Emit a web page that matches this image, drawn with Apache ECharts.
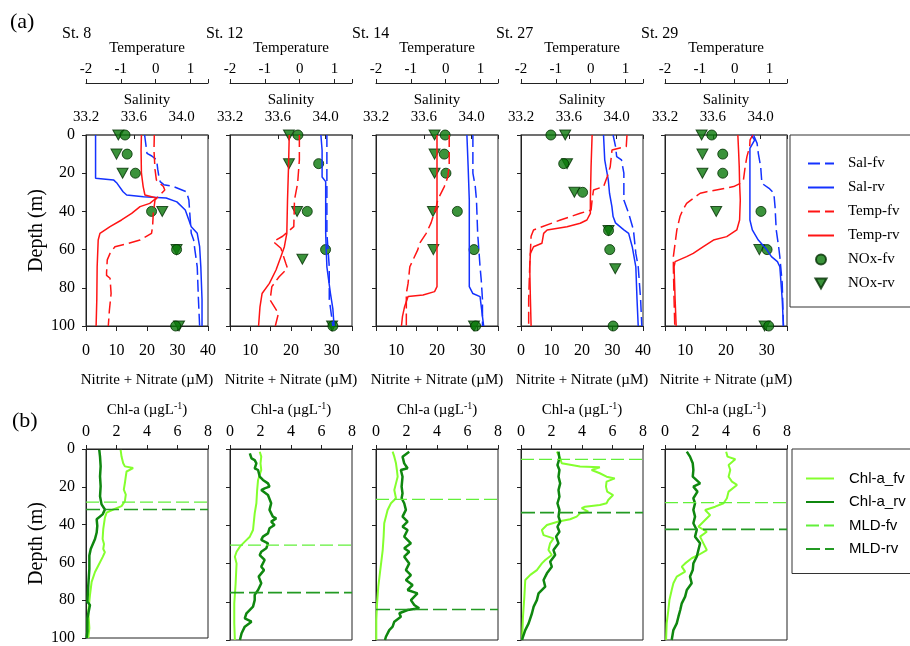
<!DOCTYPE html>
<html>
<head>
<meta charset="utf-8">
<script src="https://cdn.jsdelivr.net/npm/echarts@6/dist/echarts.min.js"></script>
<style>
  html, body { margin: 0; padding: 0; background: #fff; }
  #chart { width: 910px; height: 646px; }
</style>
</head>
<body>
<div id="chart"></div>
<script>
// ---------- Stations and axis ranges ----------
const stations = ['St. 8', 'St. 12', 'St. 14', 'St. 27', 'St. 29'];
const tempRange = [-2, 1.5];
const salRange = [33.2, 34.22];
const noxMin = [0, 5, 5, 0, 5];
const noxMax = [40, 35, 35, 40, 35];
const noxTickStep = [10, 5, 5, 10, 5];
const chlRange = [0, 8];
const depthRange = [0, 100];

// ---------- Salinity profiles [salinity, depth m] ----------
const sal8Fv = [[33.69,0],[33.71,9.6],[33.75,11],[33.79,13],[33.80,18],[33.81,22],[33.82,24.4],[33.85,26],[33.93,27],[34.04,29.7],[34.06,34],[34.07,43],[34.08,51.5],[34.10,55],[34.11,60],[34.13,69],[34.14,86],[34.15,100]];
const sal8Rv = [[33.28,0],[33.28,22.7],[33.43,23.5],[33.46,25.3],[33.51,29.7],[33.54,31.4],[33.68,32.3],[33.87,33],[33.96,35],[34.03,39.3],[34.06,44.5],[34.08,48],[34.13,51.5],[34.15,58.5],[34.16,69],[34.17,86],[34.17,100]];
const sal12Fv = [[34.01,0],[34.01,16],[34.01,27],[34.01,51.5],[34.03,69],[34.03,86],[34.06,100]];
const sal12Rv = [[33.96,0],[33.97,8],[33.97,22],[34.00,24.4],[34.00,34],[34.00,51.5],[34.01,69],[34.04,83],[34.06,91],[34.07,100]];
const sal14Fv = [[34.01,0],[34.01,20],[34.03,27],[34.04,34],[34.05,51.5],[34.07,69],[34.08,76],[34.09,86],[34.09,100]];
const sal14Rv = [[33.96,0],[33.97,16],[33.98,34],[33.98,51.5],[33.98,79.4],[34.01,83],[34.07,84.6],[34.09,95],[34.10,100]];
const sal27Fv = [[33.97,0],[33.99,6],[34.00,11.3],[34.04,13],[34.06,20],[34.06,34],[34.10,41],[34.14,49.7],[34.16,62],[34.18,69],[34.20,86],[34.21,100]];
const sal27Rv = [[33.89,0],[33.90,13],[33.91,16.6],[33.93,23.6],[33.94,30.5],[33.96,37.5],[33.97,42.7],[33.99,46],[34.06,49.7],[34.10,51.5],[34.13,58.5],[34.14,62],[34.16,69],[34.17,86],[34.18,100]];
const sal29Fv = [[33.94,0],[33.97,4.4],[33.98,9.6],[34.00,16.6],[34.01,25.3],[34.07,27.9],[34.11,30.5],[34.12,37.5],[34.13,49.7],[34.15,58.5],[34.16,63.7],[34.18,77.7],[34.19,100]];
const sal29Rv = [[33.92,0],[33.95,2.6],[33.91,7],[33.91,16.6],[33.91,34],[33.91,44.5],[33.93,49.7],[33.98,55],[34.05,60],[34.09,63.7],[34.14,66.3],[34.16,69],[34.18,86],[34.19,100]];

// ---------- Temperature profiles [°C, depth m] ----------
const temp8Fv = [[-0.04,0],[-0.05,8],[-0.02,18],[0.02,23.6],[0.22,27],[0.26,28.8],[-0.02,34],[-0.07,41],[-0.09,48],[-0.12,51.5],[-0.45,55],[-0.83,57],[-1.17,58.5],[-1.31,62],[-1.39,65.4],[-1.41,72],[-1.41,73.5],[-1.31,75],[-1.28,83],[-1.33,92],[-1.36,100]];
const temp8Rv = [[-0.41,0],[-0.42,8],[-0.41,20],[-0.36,27],[-0.31,31.4],[0.02,33],[-0.17,35.8],[-0.45,37.5],[-0.69,41],[-0.98,44.5],[-1.31,48],[-1.60,51.5],[-1.65,55],[-1.68,69],[-1.69,86],[-1.71,100]];
const temp12Fv = [[-0.01,0],[-0.01,13],[-0.06,25.3],[-0.15,34],[-0.17,48],[-0.49,53],[-0.76,55.8],[-0.54,59.3],[-0.40,67.2],[-0.35,69.8],[-0.59,74.2],[-0.80,79.4],[-0.85,86.4],[-0.61,93.4],[-0.70,100]];
const temp12Rv = [[-0.30,0],[-0.32,16],[-0.35,34],[-0.37,51.5],[-0.44,58.5],[-0.54,63.7],[-0.68,70.7],[-0.87,77.7],[-1.08,83],[-1.14,90],[-1.18,100]];
const temp14Fv = [[0.10,0],[0.10,16],[0.06,22],[-0.04,27],[-0.23,34],[-0.27,37.5],[-0.42,46],[-0.56,51.5],[-0.75,56.7],[-0.80,60],[-1.03,69],[-1.08,77.7],[-1.13,83],[-1.13,91],[-1.13,100]];
const temp14Rv = [[-0.25,0],[-0.25,20],[-0.25,51.5],[-0.25,79.4],[-0.32,82],[-0.65,83.8],[-1.08,84.6],[-1.18,89.9],[-1.24,95],[-1.27,100]];
const temp27Fv = [[1.04,0],[1.02,6],[0.61,7.9],[0.56,16.6],[0.47,22],[0.37,27],[0.08,28.8],[0.04,34],[0.01,39.3],[-0.30,41],[-0.87,44.5],[-1.64,49.7],[-1.71,53],[-1.75,69],[-1.78,86],[-1.78,100]];
const temp27Rv = [[0.04,0],[0.01,16.6],[-0.01,34],[-0.01,41],[-0.11,44.5],[-0.30,46.2],[-0.68,48],[-1.25,49.7],[-1.35,51.5],[-1.40,56.7],[-1.64,58.5],[-1.73,62],[-1.75,69],[-1.73,86],[-1.71,100]];
const temp29Fv = [[0.52,0],[0.44,2.6],[0.43,6],[0.35,11.3],[0.30,16.6],[0.25,23.6],[0.16,25.3],[-0.03,27],[-0.80,29.7],[-0.99,30.5],[-1.38,35.8],[-1.49,39.3],[-1.57,42.7],[-1.66,49.7],[-1.71,56.7],[-1.76,63.7],[-1.76,69],[-1.74,86],[-1.72,100]];
const temp29Rv = [[0.09,0],[0.11,7.9],[0.13,16.6],[0.14,25.3],[0.16,34],[0.14,44.5],[0.06,49.7],[-0.23,53.2],[-0.61,55],[-0.90,58.5],[-1.19,62],[-1.38,63.7],[-1.71,66.3],[-1.74,69],[-1.71,86],[-1.68,100]];

// ---------- Nitrite + nitrate bottle samples [µM, depth m] ----------
const nox8Fv = [[12.8,0],[13.5,10],[16.2,20],[21.5,40],[29.7,60],[29.4,100]];
const nox8Rv = [[10.6,0],[10.0,10],[12.0,20],[25.0,40],[29.7,60],[30.5,100]];
const nox12Fv = [[21.7,0],[26.8,15],[24.0,40],[28.5,60],[30.3,100]];
const nox12Rv = [[19.5,0],[19.5,15],[21.5,40],[22.8,65],[30.1,100]];
const nox14Fv = [[22.0,0],[21.8,10],[22.2,20],[25.0,40],[29.1,60],[29.5,100]];
const nox14Rv = [[19.4,0],[19.4,10],[19.4,20],[19.0,40],[19.1,60],[29.1,100]];
const nox27Fv = [[9.8,0],[14.0,15],[20.2,30],[28.7,50],[29.1,60],[30.2,100]];
const nox27Rv = [[14.5,0],[15.1,15],[17.5,30],[28.7,50],[30.9,70]];
const nox29Fv = [[16.5,0],[19.2,10],[19.2,20],[28.6,40],[30.1,60],[30.5,100]];
const nox29Rv = [[14.0,0],[14.2,10],[14.2,20],[17.6,40],[28.2,60],[29.5,100]];

// ---------- Chlorophyll-a profiles [µg/L, depth m] ----------
const chl8Fv = [[2.27,0.5],[2.33,4],[2.44,7.5],[2.55,9.2],[3.09,10.1],[2.66,11.9],[2.61,14.5],[2.55,18],[2.48,21.5],[2.61,24.1],[2.48,25],[2.55,27.6],[2.33,30.2],[1.79,32],[1.35,33.7],[1.24,36.3],[1.13,42.4],[1.09,47.6],[1.18,50.3],[1.13,52.9],[1.24,54.6],[1.09,57.2],[0.81,61.6],[0.59,65.1],[0.37,70.3],[0.26,77.3],[0.15,86],[0.22,94.8],[0.15,100]];
const chl8Rv = [[0.87,0.5],[0.92,4],[0.96,9.2],[0.92,14.5],[0.96,19.7],[0.92,25],[1.02,29.3],[1.24,32],[1.09,34.6],[0.70,37.2],[0.74,40.7],[0.70,44.2],[0.59,47.6],[0.31,52.9],[0.22,56.4],[0.22,63.4],[0.15,72.1],[0.09,80.8],[0.26,82.5],[0.09,89.5],[0.09,96.5],[0.04,100]];
const chl12Fv = [[1.95,1.4],[2.05,4],[2.00,7.5],[2.05,11],[1.84,16.2],[1.78,21.5],[1.73,28.4],[1.62,33.7],[1.51,42.4],[1.30,45.9],[0.97,48.5],[0.65,51.1],[0.43,53.8],[0.32,56.4],[0.43,60],[0.37,70.3],[0.28,80.8],[0.28,91.3],[0.32,100]];
const chl12Rv = [[1.30,2.3],[1.41,4.9],[1.62,5.8],[1.73,7.5],[1.62,10.1],[1.84,11],[1.95,14.5],[2.16,16.2],[2.49,18],[2.59,19.7],[2.27,20.6],[2.05,21.5],[2.49,24.1],[2.70,28.4],[2.59,31.9],[2.81,35.4],[3.03,36.3],[2.70,38],[2.92,39.8],[2.59,41.5],[2.49,44.2],[2.16,45.9],[2.05,47.6],[2.49,49.4],[2.38,52],[2.05,53.8],[1.95,55.5],[2.27,58.1],[2.05,61.6],[2.23,63.4],[1.88,66.8],[2.05,70.3],[1.84,73.8],[1.62,76.4],[1.62,79.1],[1.51,82.5],[1.08,86],[0.97,88.7],[1.41,90.4],[0.97,93],[0.76,96.5],[0.65,100]];
const chl14Fv = [[1.09,1.4],[1.20,4],[1.31,7.5],[1.37,11],[1.42,14.5],[1.31,18],[1.20,21.5],[1.31,25.8],[0.98,28.4],[0.76,31.9],[0.54,38.9],[0.50,45.9],[0.44,52.9],[0.28,63.4],[0.15,72.1],[0.07,80.8],[0.02,89.5],[0.02,100]];
const chl14Rv = [[2.18,1.4],[1.74,4],[1.85,7.5],[2.07,10.1],[1.63,11],[1.74,14.5],[1.68,19.7],[1.74,23.2],[1.68,25.8],[1.85,28.4],[1.96,31.9],[1.74,35.4],[2.07,38],[1.74,40.7],[2.07,42.4],[1.85,45.9],[2.29,49.4],[1.85,52],[2.18,53.8],[1.85,56.4],[2.18,59.9],[1.96,63.4],[2.29,66],[1.96,68.6],[2.40,71.2],[2.07,73.8],[2.72,75.6],[2.29,79.1],[2.51,81.7],[2.83,83.4],[2.07,84.3],[1.53,86],[1.63,87.8],[1.20,90.4],[1.09,93],[0.87,94.8],[0.65,98.3],[0.59,100]];
const chl27Fv = [[2.35,1.4],[2.57,4.9],[2.67,7.5],[3.87,9.2],[5.17,9.6],[4.63,11],[5.17,12.7],[5.61,14.5],[6.15,15.4],[5.61,17.1],[5.57,19.7],[5.65,22.3],[6.04,24.1],[5.72,26.7],[5.61,28.4],[5.17,29.3],[4.20,30.2],[3.98,31],[4.41,32.8],[3.87,33.7],[3.65,35.4],[3.22,36.8],[2.46,38],[1.70,39.8],[1.37,42.4],[1.48,45.1],[2.13,46.8],[1.91,49.4],[1.80,52.9],[2.02,55.5],[1.59,58.1],[1.37,59.9],[1.04,63.4],[0.61,65.9],[0.28,68.6],[0.22,77.3],[0.13,87.8],[0.07,100]];
const chl27Rv = [[2.46,1.4],[2.52,4.9],[2.39,8.4],[2.52,11],[2.46,14.5],[2.57,18],[2.46,21.5],[2.52,25],[2.39,28.4],[2.52,31.9],[2.46,35.4],[2.57,38],[2.39,40.7],[2.52,43.3],[2.30,45.9],[2.46,49.4],[2.13,52.9],[2.24,55.5],[1.91,59],[2.02,61.6],[1.70,65.1],[1.48,68.6],[1.59,72.1],[1.15,75.6],[1.04,79.1],[0.83,82.5],[0.72,86],[0.50,91.3],[0.28,94.8],[0.13,98.3],[0.07,100]];
const chl29Fv = [[4.01,1.4],[4.10,4],[4.61,5.4],[4.17,8.4],[4.28,11],[4.17,14.5],[4.39,17.1],[4.72,18.8],[4.17,22.3],[4.06,25.8],[3.84,28.4],[3.29,30.2],[2.63,31.9],[2.96,34.6],[2.63,37.2],[2.19,40.7],[2.74,43.3],[2.30,45.9],[2.52,49.4],[2.74,52.9],[2.19,55.5],[1.75,57.2],[1.32,59.9],[1.10,61.6],[1.32,64.2],[0.77,66.8],[0.55,70.3],[0.44,73.8],[0.29,79.1],[0.22,84.3],[0.11,91.3],[0.07,100]];
const chl29Rv = [[1.43,1.4],[1.64,4],[1.82,7.5],[1.86,11],[1.82,14.5],[2.30,18],[1.86,19.7],[2.13,22.3],[1.86,25.8],[1.97,28.4],[1.86,31.9],[1.97,35.4],[1.86,38.9],[2.08,42.4],[1.97,45.9],[2.30,49.4],[2.19,52.9],[2.08,56.4],[1.86,59.9],[1.82,63.4],[1.64,66.8],[1.75,70.3],[1.43,73.8],[1.32,77.3],[1.10,80.8],[1.00,84.3],[0.88,87.8],[0.77,91.3],[0.55,94.8],[0.44,100]];

// ---------- Mixed layer depths (m) ----------
const mldFv = [28.1, 50.3, 26.4, 5.4, 28.1];
const mldRv = [32.0, 75.2, 84.0, 33.3, 42.1];

// ---------- Per-station groupings ----------
const salFv = [sal8Fv, sal12Fv, sal14Fv, sal27Fv, sal29Fv];
const salRv = [sal8Rv, sal12Rv, sal14Rv, sal27Rv, sal29Rv];
const tempFv = [temp8Fv, temp12Fv, temp14Fv, temp27Fv, temp29Fv];
const tempRv = [temp8Rv, temp12Rv, temp14Rv, temp27Rv, temp29Rv];
const noxFv = [nox8Fv, nox12Fv, nox14Fv, nox27Fv, nox29Fv];
const noxRv = [nox8Rv, nox12Rv, nox14Rv, nox27Rv, nox29Rv];
const chlFv = [chl8Fv, chl12Fv, chl14Fv, chl27Fv, chl29Fv];
const chlRv = [chl8Rv, chl12Rv, chl14Rv, chl27Rv, chl29Rv];

// ---------- Layout and style ----------
const SERIF = '"Liberation Serif","Times New Roman",serif';
const SANS = '"Liberation Sans",Arial,sans-serif';
const colLeft = [86, 230, 376, 521, 665];
const panelW = 122, panelH = 191;
const rowTop = [135, 449];
const stationLabelX = [62, 206, 352, 496, 641];

const BLUE = '#1432ff';
const RED = '#ff1414';
const NOX_FILL = '#0a780a';
const NOX_EDGE = '#033003';
const CHL_FV = '#84ff2e';
const CHL_RV = '#0f870f';
const MLD_FV = '#62f03a';
const MLD_RV = '#239a23';
const AXIS = '#222';

const downTriangle = 'path://M0,0 L10,0 L5,9 Z';

function labelStyle(size, extra) {
  return Object.assign({ fontFamily: SERIF, fontSize: size, color: '#000' }, extra || {});
}
function nameStyle(size) {
  return { fontFamily: SERIF, fontSize: size, color: '#000' };
}
function isStep(v, base, step) {
  const k = (v - base) / step;
  return Math.abs(k - Math.round(k)) < 1e-6;
}

const grids = [], xAxes = [], yAxes = [], series = [];

for (let row = 0; row < 2; row++) {
  stations.forEach((st, i) => {
    grids.push({
      left: colLeft[i], top: rowTop[row], width: panelW, height: panelH,
      show: true, borderColor: AXIS, borderWidth: 1, containLabel: false
    });
  });
}

// depth axes (top row 0..4, bottom row 5..9)
for (let row = 0; row < 2; row++) {
  stations.forEach((st, i) => {
    yAxes.push({
      gridIndex: row * 5 + i, type: 'value', inverse: true,
      min: depthRange[0], max: depthRange[1], interval: 20,
      axisLine: { show: true, onZero: false, lineStyle: { color: AXIS } },
      axisTick: { show: true, inside: false, length: 4, lineStyle: { color: AXIS } },
      axisLabel: labelStyle(16, { show: i === 0, margin: 11 }),
      splitLine: { show: false },
      name: i === 0 ? 'Depth (m)' : '', nameLocation: 'middle', nameGap: 31, nameRotate: 90,
      nameTextStyle: nameStyle(20)
    });
  });
}

// top row x axes: temperature, salinity, nitrite+nitrate
stations.forEach((st, i) => {
  xAxes.push({
    gridIndex: i, type: 'value', position: 'top', offset: 52,
    min: tempRange[0], max: tempRange[1], interval: 1,
    axisLine: { show: true, onZero: false, lineStyle: { color: AXIS } },
    axisTick: { show: true, inside: false, length: 4, lineStyle: { color: AXIS } },
    axisLabel: labelStyle(15, { margin: 6, formatter: v => isStep(v, 0, 1) ? String(Math.round(v)) : '' }),
    splitLine: { show: false },
    name: 'Temperature', nameLocation: 'middle', nameGap: 27, nameTextStyle: nameStyle(15)
  });
  xAxes.push({
    gridIndex: i, type: 'value', position: 'top', offset: 0,
    min: salRange[0], max: salRange[1], interval: 0.4,
    axisLine: { show: true, onZero: false, lineStyle: { color: '#666', width: 1.5 } },
    axisTick: { show: true, inside: true, length: 4, lineStyle: { color: AXIS } },
    axisLabel: labelStyle(15, { margin: 10, formatter: v => isStep(v, salRange[0], 0.4) ? v.toFixed(1) : '' }),
    splitLine: { show: false },
    name: 'Salinity', nameLocation: 'middle', nameGap: 27, nameTextStyle: nameStyle(15)
  });
  xAxes.push({
    gridIndex: i, type: 'value', position: 'bottom',
    min: noxMin[i], max: noxMax[i], interval: noxTickStep[i],
    axisLine: { show: true, onZero: false, lineStyle: { color: AXIS } },
    axisTick: { show: true, inside: false, length: 5, lineStyle: { color: AXIS } },
    axisLabel: labelStyle(16, { margin: 17, formatter: v => isStep(v, 0, 10) ? String(Math.round(v)) : '' }),
    splitLine: { show: false },
    name: 'Nitrite + Nitrate (µM)', nameLocation: 'middle', nameGap: 47, nameTextStyle: nameStyle(15)
  });
});

// bottom row x axes: chlorophyll-a
stations.forEach((st, i) => {
  xAxes.push({
    gridIndex: 5 + i, type: 'value', position: 'top',
    min: chlRange[0], max: chlRange[1], interval: 2,
    axisLine: { show: true, onZero: false, lineStyle: { color: AXIS } },
    axisTick: { show: true, inside: false, length: 4, lineStyle: { color: AXIS } },
    axisLabel: labelStyle(16, { margin: 9 }),
    splitLine: { show: false },
    name: '{b|Chl-a (µgL}{s|-1}{b|)}', nameLocation: 'middle', nameGap: 30,
    nameTextStyle: {
      fontFamily: SERIF, fontSize: 15, color: '#000',
      rich: {
        b: { fontFamily: SERIF, fontSize: 15, color: '#000', lineHeight: 18 },
        s: { fontFamily: SERIF, fontSize: 10, color: '#000', verticalAlign: 'top', lineHeight: 18 }
      }
    }
  });
});

function lineSeries(name, xi, yi, data, color, width, dash) {
  return {
    type: 'line', name, xAxisIndex: xi, yAxisIndex: yi, data,
    symbol: 'none', clip: false, silent: true, animation: false,
    itemStyle: { color },
    lineStyle: { color, width, type: dash || 'solid' }
  };
}

stations.forEach((st, i) => {
  series.push(lineSeries('Sal-fv', 3 * i + 1, i, salFv[i], BLUE, 1.5, [12, 5]));
  series.push(lineSeries('Sal-rv', 3 * i + 1, i, salRv[i], BLUE, 1.5));
  series.push(lineSeries('Temp-fv', 3 * i, i, tempFv[i], RED, 1.5, [12, 5]));
  series.push(lineSeries('Temp-rv', 3 * i, i, tempRv[i], RED, 1.5));
  series.push({
    type: 'scatter', name: 'NOx-rv', xAxisIndex: 3 * i + 2, yAxisIndex: i, data: noxRv[i],
    symbol: downTriangle, symbolSize: [11, 10], clip: false, silent: true,
    itemStyle: { color: NOX_FILL, borderColor: NOX_EDGE, borderWidth: 1 }
  });
  series.push({
    type: 'scatter', name: 'NOx-fv', xAxisIndex: 3 * i + 2, yAxisIndex: i, data: noxFv[i],
    symbol: 'circle', symbolSize: 10, clip: false, silent: true,
    itemStyle: { color: NOX_FILL, borderColor: NOX_EDGE, borderWidth: 1 }
  });
});

stations.forEach((st, i) => {
  series.push(lineSeries('Chl-a_fv', 15 + i, 5 + i, chlFv[i], CHL_FV, 2));
  series.push(lineSeries('Chl-a_rv', 15 + i, 5 + i, chlRv[i], CHL_RV, 2.5));
  series.push(lineSeries('MLD-fv', 15 + i, 5 + i, [[chlRange[0], mldFv[i]], [chlRange[1], mldFv[i]]], MLD_FV, 1.2, [13, 5]));
  series.push(lineSeries('MLD-rv', 15 + i, 5 + i, [[chlRange[0], mldRv[i]], [chlRange[1], mldRv[i]]], MLD_RV, 1.6, [14, 5]));
});

const titles = [
  { text: '(a)', left: 10, top: 11, padding: 0, textStyle: { fontFamily: SERIF, fontSize: 22, fontWeight: 'normal', color: '#000' } },
  { text: '(b)', left: 12, top: 410, padding: 0, textStyle: { fontFamily: SERIF, fontSize: 22, fontWeight: 'normal', color: '#000' } }
].concat(stations.map((st, i) => ({
  text: st, left: stationLabelX[i], top: 26, padding: 0,
  textStyle: { fontFamily: SERIF, fontSize: 16, fontWeight: 'normal', color: '#000' }
})));

// legend entries for line series show only the line (no marker dot)
const lineOnly = name => ({ name, itemStyle: { opacity: 0 } });

const option = {
  animation: false,
  backgroundColor: '#fff',
  title: titles,
  grid: grids,
  xAxis: xAxes,
  yAxis: yAxes,
  legend: [
    {
      orient: 'vertical', left: 790, top: 135,
      padding: [21, 45, 16, 17], itemWidth: 26, itemHeight: 10, itemGap: 9,
      borderColor: '#333', borderWidth: 1, selectedMode: false,
      textStyle: { fontFamily: SERIF, fontSize: 15, color: '#000', padding: [0, 0, 0, 9] },
      data: [lineOnly('Sal-fv'), lineOnly('Sal-rv'), lineOnly('Temp-fv'), lineOnly('Temp-rv'), 'NOx-fv', 'NOx-rv']
    },
    {
      orient: 'vertical', left: 792, top: 449,
      padding: [22, 45, 17, 13], itemWidth: 28, itemHeight: 10, itemGap: 8.5,
      borderColor: '#333', borderWidth: 1, selectedMode: false,
      textStyle: { fontFamily: SANS, fontSize: 15, color: '#000', padding: [0, 0, 0, 10] },
      data: [lineOnly('Chl-a_fv'), lineOnly('Chl-a_rv'), lineOnly('MLD-fv'), lineOnly('MLD-rv')]
    }
  ],
  series
};

const chart = echarts.init(document.getElementById('chart'), null, { renderer: 'canvas' });
chart.setOption(option);
</script>
</body>
</html>
